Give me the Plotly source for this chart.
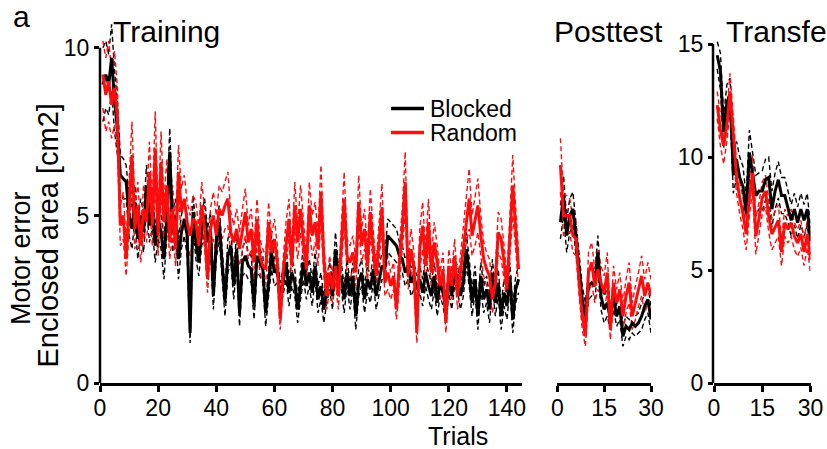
import plotly.graph_objects as go

W, H = 827, 449

# ---------------- data ----------------
series_names = ["Blocked", "Random"]
train_trials = list(range(1, 145))
test_trials = list(range(1, 31))

blocked_train = [
    8.9, 9.2, 8.9, 9.7, 8.4, 7.6, 6.2, 6.1, 6.0, 5.0,
    4.6, 5.4, 4.3, 5.0, 4.5, 5.9, 4.7, 5.2, 4.1, 4.9,
    4.5, 3.7, 4.9, 6.9, 4.5, 5.0, 3.7, 4.5, 4.9, 4.4,
    1.5, 5.1, 4.2, 3.6, 4.6, 5.0, 4.2, 4.6, 2.6, 4.2,
    4.8, 3.6, 2.4, 3.8, 4.1, 2.9, 4.0, 2.1, 3.6, 3.8,
    3.5, 3.4, 2.3, 3.8, 3.6, 3.4, 2.1, 3.0, 3.9, 3.3,
    3.4, 2.6, 3.0, 3.6, 2.7, 3.3, 3.0, 2.2, 2.9, 3.6,
    2.9, 3.3, 2.7, 3.5, 2.5, 2.9, 2.2, 2.8, 3.2, 2.6,
    4.0, 3.1, 3.2, 2.5, 3.3, 2.6, 3.2, 2.0, 3.0, 3.3,
    2.5, 3.1, 2.8, 3.4, 2.6, 3.0, 3.5, 3.4, 4.4, 4.3,
    4.2, 4.1, 3.8, 3.7, 3.3, 3.5, 3.0, 3.2, 2.8, 3.1,
    2.7, 3.3, 2.9, 2.6, 3.2, 2.4, 3.0, 2.7, 2.2, 3.1,
    2.6, 3.3, 3.1, 2.6, 3.0, 4.0, 3.3, 2.4, 3.1, 2.0,
    3.2, 2.5, 2.8, 2.2, 3.3, 2.4, 3.0, 2.0, 2.7, 2.3,
    3.2, 1.9, 2.8, 3.1,
]
random_train = [
    9.2, 8.6, 9.0, 8.3, 8.8, 7.9, 4.7, 5.0, 3.7, 5.4,
    6.8, 4.6, 5.3, 4.1, 5.2, 4.8, 6.3, 4.7, 7.0, 4.4,
    6.6, 4.8, 5.9, 4.2, 5.2, 4.0, 6.3, 5.1, 5.5, 4.8,
    4.4, 4.9, 4.8, 4.1, 5.3, 4.6, 3.1, 4.6, 5.0, 4.4,
    5.2, 5.0, 5.3, 5.5, 4.5, 4.2, 4.6, 4.0, 4.6, 5.1,
    4.2, 4.6, 3.6, 4.9, 3.8, 3.5, 3.4, 4.8, 3.9, 4.3,
    3.6, 1.9, 3.3, 4.2, 4.9, 3.5, 5.3, 4.2, 5.2, 4.2,
    3.4, 5.3, 4.4, 4.8, 4.0, 5.7, 3.7, 2.6, 3.3, 2.8,
    3.5, 2.6, 4.0, 5.5, 3.8, 3.6, 3.9, 3.3, 5.4, 4.1,
    4.6, 3.5, 5.1, 4.0, 3.2, 4.3, 5.25, 3.0, 3.3, 2.9,
    3.2, 2.2, 3.6, 4.6, 6.0, 3.2, 4.0, 3.4, 1.5, 4.0,
    4.7, 3.5, 4.8, 3.3, 4.2, 3.6, 2.9, 3.4, 1.8, 3.5,
    2.9, 3.8, 2.6, 3.3, 4.1, 4.9, 5.5, 4.4, 4.8, 5.3,
    4.4, 3.7, 3.4, 3.2, 2.5, 3.0, 4.5, 4.3, 3.6, 2.8,
    4.4, 5.9, 4.6, 3.4,
]
se_blocked_train = [
    1.1, 1.0, 0.9, 1.0, 0.9, 0.8, 0.6, 0.6, 0.5, 0.6,
    0.6, 0.5, 0.6, 0.5, 0.6, 0.6, 0.5, 0.6, 0.5, 0.6,
    0.5, 0.6, 0.5, 0.7, 0.6, 0.5, 0.6, 0.5, 0.5, 0.6,
    0.3, 0.5, 0.5, 0.4, 0.5, 0.5, 0.4, 0.5, 0.4, 0.5,
    0.5, 0.4, 0.4, 0.5, 0.5, 0.4, 0.5, 0.4, 0.4, 0.5,
    0.4, 0.4, 0.4, 0.5, 0.4, 0.4, 0.4, 0.4, 0.5, 0.4,
    0.4, 0.4, 0.4, 0.5, 0.4, 0.4, 0.4, 0.4, 0.4, 0.5,
    0.4, 0.4, 0.4, 0.4, 0.4, 0.4, 0.4, 0.4, 0.4, 0.4,
    0.5, 0.4, 0.4, 0.4, 0.4, 0.4, 0.4, 0.4, 0.4, 0.4,
    0.4, 0.4, 0.4, 0.4, 0.4, 0.4, 0.4, 0.4, 0.5, 0.5,
    0.5, 0.5, 0.4, 0.4, 0.4, 0.4, 0.4, 0.4, 0.4, 0.4,
    0.4, 0.4, 0.4, 0.4, 0.4, 0.4, 0.4, 0.4, 0.4, 0.4,
    0.4, 0.4, 0.4, 0.4, 0.4, 0.5, 0.4, 0.4, 0.4, 0.4,
    0.4, 0.4, 0.4, 0.4, 0.4, 0.4, 0.4, 0.4, 0.4, 0.4,
    0.4, 0.4, 0.4, 0.4,
]
se_random_train = [
    1.0, 1.1, 1.2, 1.0, 1.1, 0.9, 0.6, 0.7, 0.5, 0.8,
    1.0, 0.6, 0.7, 0.5, 0.7, 0.6, 0.9, 0.6, 1.1, 0.6,
    0.9, 0.6, 0.8, 0.5, 0.7, 0.5, 0.8, 0.7, 0.7, 0.6,
    0.6, 0.7, 0.6, 0.5, 0.7, 0.6, 0.4, 0.6, 0.7, 0.6,
    0.7, 0.7, 0.7, 0.8, 0.6, 0.5, 0.6, 0.5, 0.6, 0.7,
    0.5, 0.6, 0.5, 0.6, 0.5, 0.5, 0.4, 0.6, 0.5, 0.6,
    0.5, 0.3, 0.4, 0.6, 0.6, 0.5, 0.7, 0.5, 0.7, 0.5,
    0.4, 0.7, 0.6, 0.6, 0.5, 0.8, 0.5, 0.4, 0.5, 0.4,
    0.5, 0.4, 0.5, 0.8, 0.5, 0.5, 0.5, 0.4, 0.8, 0.5,
    0.6, 0.5, 0.7, 0.5, 0.4, 0.6, 0.7, 0.4, 0.5, 0.4,
    0.4, 0.3, 0.5, 0.6, 0.9, 0.4, 0.6, 0.5, 0.3, 0.6,
    0.7, 0.5, 0.7, 0.5, 0.6, 0.5, 0.4, 0.5, 0.3, 0.5,
    0.4, 0.5, 0.4, 0.5, 0.6, 0.7, 0.9, 0.6, 0.7, 0.8,
    0.6, 0.5, 0.5, 0.5, 0.4, 0.4, 0.6, 0.6, 0.5, 0.4,
    0.6, 0.9, 0.6, 0.5,
]

blocked_post = [4.8, 5.6, 4.4, 5.0, 5.2, 4.3, 3.6, 2.5, 2.0, 2.9,
                3.0, 2.9, 3.9, 2.6, 2.2, 2.4, 1.9, 2.6, 2.0, 2.3,
                1.4, 1.7, 1.6, 1.8, 1.7, 1.8, 2.0, 2.3, 2.5, 1.9]
random_post = [6.5, 5.0, 5.0, 5.0, 4.4, 4.3, 3.0, 2.0, 1.4, 3.3,
               3.6, 2.9, 3.4, 3.0, 2.7, 3.3, 1.6, 3.0, 2.4, 2.8,
               2.0, 2.6, 3.0, 2.0, 2.4, 2.8, 3.2, 2.6, 3.0, 2.6]
se_blocked_post = [0.5, 0.6, 0.5, 0.5, 0.5, 0.5, 0.4, 0.4, 0.4, 0.4,
                   0.4, 0.4, 0.5, 0.4, 0.4, 0.4, 0.3, 0.4, 0.3, 0.4,
                   0.3, 0.3, 0.3, 0.3, 0.3, 0.3, 0.4, 0.4, 0.4, 0.4]
se_random_post = [0.8, 0.6, 0.6, 0.5, 0.5, 0.5, 0.4, 0.4, 0.3, 0.6,
                  0.6, 0.5, 0.6, 0.5, 0.5, 0.6, 0.3, 0.5, 0.4, 0.5,
                  0.4, 0.5, 0.6, 0.4, 0.5, 0.5, 0.6, 0.5, 0.6, 0.5]

blocked_trans = [14.5, 13.8, 11.1, 12.4, 12.8, 9.2, 9.9, 9.1, 8.7, 7.5,
                 10.2, 9.3, 8.3, 8.5, 8.5, 9.0, 9.1, 7.7, 8.5, 9.0,
                 8.3, 8.3, 7.8, 7.2, 7.7, 7.1, 7.7, 7.2, 7.7, 6.3]
random_trans = [12.3, 11.2, 10.5, 11.4, 12.9, 10.9, 9.1, 8.2, 7.5, 6.6,
                8.2, 9.3, 6.5, 7.3, 8.2, 8.5, 7.4, 6.6, 6.9, 7.2,
                5.8, 7.1, 6.8, 7.1, 6.5, 6.2, 6.6, 5.8, 6.6, 5.45]
se_blocked_trans = [0.6, 0.8, 0.7, 0.8, 0.7, 0.8, 0.8, 0.9, 0.9, 0.8,
                    1.0, 0.9, 0.9, 0.8, 0.9, 0.9, 0.9, 0.8, 0.8, 0.8,
                    0.8, 0.8, 0.7, 0.7, 0.7, 0.7, 0.7, 0.7, 0.7, 0.6]
se_random_trans = [0.6, 0.7, 0.8, 0.7, 0.8, 0.7, 0.7, 0.7, 0.7, 0.7,
                   0.8, 0.8, 0.8, 0.7, 0.7, 0.7, 0.7, 0.7, 0.7, 0.7,
                   0.6, 0.6, 0.6, 0.6, 0.6, 0.6, 0.6, 0.6, 0.6, 0.6]

train_xticks = [0, 20, 40, 60, 80, 100, 120, 140]
test_xticks = [0, 15, 30]
yticks_main = [0, 5, 10]
yticks_trans = [0, 5, 10, 15]
panel_titles = ["Training", "Posttest", "Transfer"]
ytitle_lines = ["Motor error", "Enclosed area [cm2]"]
xtitle = "Trials"
panel_letter = "a"

# ---------------- styling ----------------
FONT = "Liberation Sans, Arial, Helvetica, sans-serif"
BLACK = "#000000"
RED = "#ff0d0d"
COLORS = [BLACK, RED]


def px(xp):
    return xp / W


def py(yp):
    return 1 - yp / H


fig = go.Figure()


def add_panel(xs, means, ses, xa, ya):
    for mean, se, col in zip(means, ses, COLORS):
        upper = [m + s for m, s in zip(mean, se)]
        lower = [m - s for m, s in zip(mean, se)]
        for band in (upper, lower):
            fig.add_trace(go.Scatter(x=xs, y=band, mode="lines", xaxis=xa, yaxis=ya,
                                     line=dict(color=col, width=1.4, dash="5px,3px"),
                                     showlegend=False, hoverinfo="skip"))
    for mean, col, name in zip(means, COLORS, series_names):
        fig.add_trace(go.Scatter(x=xs, y=mean, mode="lines", xaxis=xa, yaxis=ya,
                                 line=dict(color=col, width=3), name=name,
                                 showlegend=False))


add_panel(train_trials, [blocked_train, random_train],
          [se_blocked_train, se_random_train], "x", "y")
add_panel(test_trials, [blocked_post, random_post],
          [se_blocked_post, se_random_post], "x2", "y")
add_panel(test_trials, [blocked_trans, random_trans],
          [se_blocked_trans, se_random_trans], "x3", "y3")

y0_px = 383.3
ytop_px = 14.0
unit_main = 33.56
unit_trans = 22.62
ydom = [1 - y0_px / H, 1 - ytop_px / H]

tickfont = dict(family=FONT, size=23, color=BLACK)
common_x = dict(showgrid=False, zeroline=False, showline=True, linecolor=BLACK,
                linewidth=2.5, ticks="outside", ticklen=6, tickwidth=2.5,
                tickcolor=BLACK, tickfont=tickfont, fixedrange=True, automargin=False,
                ticklabelstandoff=-4)
common_y = dict(showgrid=False, zeroline=False, showline=False,
                ticks="outside", ticklen=5, tickwidth=2.5, tickcolor=BLACK,
                tickfont=tickfont, fixedrange=True, automargin=False)

train_x0, train_x1 = 100.0, 521.5
post_x0, post_x1 = 557.3, 651.0
trans_x0, trans_x1 = 714.0, 810.5

fig.update_layout(
    template="none",
    width=W, height=H, autosize=False,
    margin=dict(l=0, r=0, t=0, b=0, pad=0),
    paper_bgcolor="white", plot_bgcolor="rgba(0,0,0,0)",
    showlegend=False,
    xaxis=dict(domain=[px(train_x0), px(train_x1)], range=[0, 145], anchor="y",
               tickvals=train_xticks, **common_x),
    yaxis=dict(domain=ydom, range=[0, (y0_px - ytop_px) / unit_main], anchor="x",
               tickvals=yticks_main, **common_y),
    xaxis2=dict(domain=[px(post_x0), px(post_x1)], range=[0, 30], anchor="y",
                tickvals=test_xticks, **common_x),
    xaxis3=dict(domain=[px(trans_x0), px(trans_x1)], range=[0, 30], anchor="y3",
                tickvals=test_xticks, **common_x),
    yaxis3=dict(domain=ydom, range=[0, (y0_px - ytop_px) / unit_trans], anchor="x3",
                tickvals=yticks_trans, **common_y),
)

# y axis lines that stop at the last tick
fig.add_shape(type="line", xref="paper", yref="y", x0=px(train_x0), x1=px(train_x0),
              y0=0, y1=yticks_main[-1], line=dict(color=BLACK, width=2.5))
fig.add_shape(type="line", xref="paper", yref="y3", x0=px(trans_x0 - 1), x1=px(trans_x0 - 1),
              y0=0, y1=yticks_trans[-1], line=dict(color=BLACK, width=2.5))

# titles
title_pos = [(111, 32), (551.5, 32), (723.5, 32)]
for t, (xx, yy) in zip(panel_titles, title_pos):
    fig.add_annotation(text=t, xref="paper", yref="paper", x=px(xx), y=py(yy),
                       xanchor="left", yanchor="middle", showarrow=False,
                       font=dict(family=FONT, size=30, color=BLACK))
fig.add_annotation(text=panel_letter, xref="paper", yref="paper", x=px(11), y=py(17),
                   xanchor="left", yanchor="middle", showarrow=False,
                   font=dict(family=FONT, size=30, color=BLACK))
fig.add_annotation(text=xtitle, xref="paper", yref="paper", x=px(458), y=py(436),
                   xanchor="center", yanchor="middle", showarrow=False,
                   font=dict(family=FONT, size=25, color=BLACK))
for line, xx, yy, fs in zip(ytitle_lines, [21, 47.5], [258, 236], [27, 29]):
    fig.add_annotation(text=line, xref="paper", yref="paper", x=px(xx), y=py(yy),
                       xanchor="center", yanchor="middle", showarrow=False, textangle=-90,
                       font=dict(family=FONT, size=fs, color=BLACK))

# legend
leg_y = [108.5, 132.5]
for name, col, yy in zip(series_names, COLORS, leg_y):
    fig.add_shape(type="line", xref="paper", yref="paper", x0=px(391), x1=px(424),
                  y0=py(yy), y1=py(yy), line=dict(color=col, width=3.5))
    fig.add_annotation(text=name, xref="paper", yref="paper", x=px(428), y=py(yy),
                       xanchor="left", yanchor="middle", showarrow=False,
                       font=dict(family=FONT, size=23, color=BLACK))

fig.write_html("out.html")
